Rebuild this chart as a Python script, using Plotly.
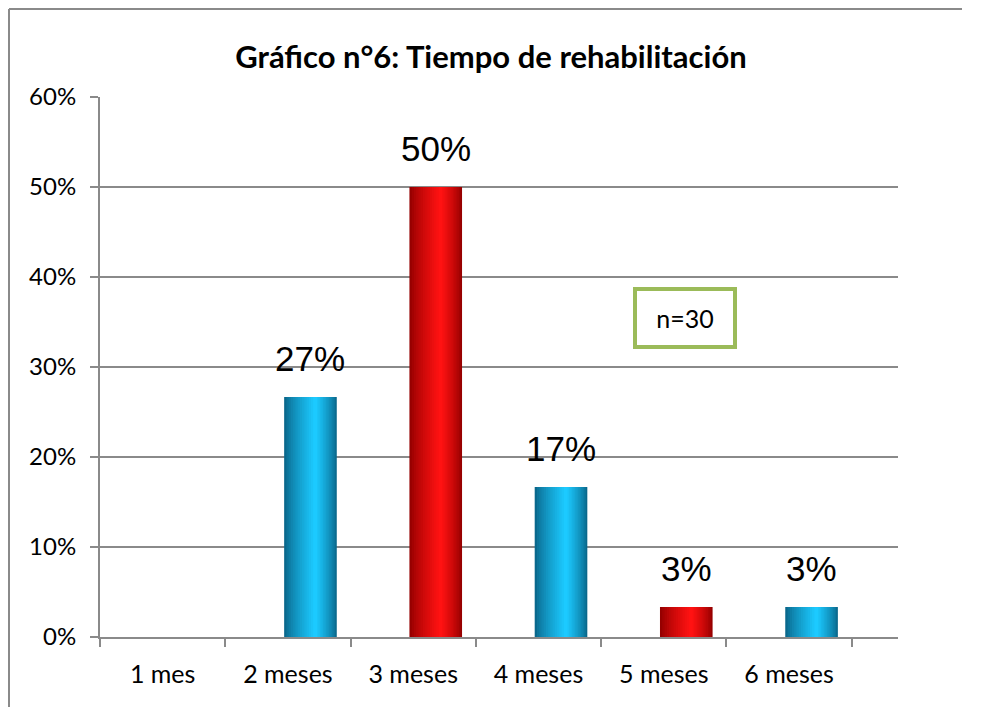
import plotly.graph_objects as go

categories = ["1 mes", "2 meses", "3 meses", "4 meses", "5 meses", "6 meses"]
values = [0.0, 0.2667, 0.50, 0.1667, 0.0333, 0.0333]
labels = ["", "27%", "50%", "17%", "3%", "3%"]
bar_family = ["blue", "blue", "red", "blue", "red", "blue"]

EDGE = {"blue": (10, 104, 140), "red": (150, 0, 0)}
CORE = {"blue": (28, 202, 255), "red": (255, 18, 18)}

BAR_LEFT = -0.03   # bar edges relative to category centre
BAR_RIGHT = 0.39
BAR_PEAK = 0.22    # where the highlight sits
LAYERS = 14

# page body has an 8px margin, so the figure is laid out 8px up/left of the target
# and kept 16px smaller so the page does not scroll
W, H = 966, 711
L, T = 92, 89
PLOT_W, PLOT_H = 798, 540
B = H - T - PLOT_H


def mix(a, b, t):
    return "rgb({},{},{})".format(*[round(a[i] + (b[i] - a[i]) * t) for i in range(3)])


fig = go.Figure()
x_pos = list(range(len(categories)))

# fake cylinder shading: nested bars, each narrower and brighter toward the highlight
for k in range(LAYERS):
    frac = k / LAYERS
    left = BAR_LEFT + (BAR_PEAK - BAR_LEFT) * frac
    right = BAR_RIGHT - (BAR_RIGHT - BAR_PEAK) * frac
    t = (k / (LAYERS - 1)) ** 0.8
    fig.add_trace(go.Bar(
        x=x_pos,
        y=values,
        offset=left,
        width=right - left,
        marker={"color": [mix(EDGE[f], CORE[f], t) for f in bar_family], "line": {"width": 0}},
        hoverinfo="skip",
        showlegend=False,
    ))

for i, (v, lab) in enumerate(zip(values, labels)):
    if not lab:
        continue
    fig.add_annotation(
        x=i + (BAR_LEFT + BAR_RIGHT) / 2,
        y=v,
        text=lab,
        showarrow=False,
        yanchor="bottom",
        yshift=17,
        font={"family": "Liberation Sans, Arial", "size": 35, "color": "#000"},
    )

fig.add_annotation(
    x=0.733, y=0.591, xref="paper", yref="paper",
    xanchor="center", yanchor="middle",
    text="n=30",
    showarrow=False,
    width=96, height=54,
    bordercolor="#9bbb59", borderwidth=4, borderpad=0,
    bgcolor="white",
    font={"family": "Lato", "size": 25, "color": "#000"},
)

# outer frame: top and left edges, kept a little inside the figure edges
fx0 = (1 - L) / PLOT_W
fx1 = (W - 12 - L) / PLOT_W
fy0 = -(B - 12) / PLOT_H
fy1 = 1 + (T - 1) / PLOT_H
border = {"color": "#8a8a8a", "width": 2}
fig.add_shape(type="line", xref="paper", yref="paper", x0=fx0, y0=fy0, x1=fx0, y1=fy1, line=border)
fig.add_shape(type="line", xref="paper", yref="paper", x0=fx0, y0=fy1, x1=fx1, y1=fy1, line=border)

fig.update_layout(
    barmode="overlay",
    width=W,
    height=H,
    margin={"l": L, "r": W - L - PLOT_W, "t": T, "b": B},
    paper_bgcolor="white",
    plot_bgcolor="white",
    font={"family": "Lato", "size": 24, "color": "#000"},
    title={
        "text": "<b>Gráfico n°6: Tiempo de rehabilitación</b>",
        "x": (491 - 8) / W, "xanchor": "center",
        "y": 1 - 49 / H, "yanchor": "middle",
        "font": {"family": "Lato", "size": 31, "color": "#000"},
    },
)
fig.update_xaxes(
    range=[-0.5, 5.87],
    tickvals=x_pos,
    ticktext=categories,
    ticks="",
    ticklabelstandoff=14,
    tickfont={"size": 25},
    showline=True, linecolor="#8a8a8a", linewidth=2,
    showgrid=False, zeroline=False,
    minor={"tickvals": [i - 0.5 for i in range(len(categories) + 1)], "ticks": "outside",
           "ticklen": 8, "tickwidth": 2, "tickcolor": "#8a8a8a"},
)
fig.update_yaxes(
    range=[0, 0.6],
    dtick=0.1,
    tickformat=".0%",
    ticks="outside", ticklen=8, tickwidth=2, tickcolor="#8a8a8a",
    ticklabelstandoff=9,
    showline=True, linecolor="#8a8a8a", linewidth=2,
    showgrid=True, gridcolor="#8a8a8a", gridwidth=2,
    zeroline=False,
)

fig.write_html("out.html")
